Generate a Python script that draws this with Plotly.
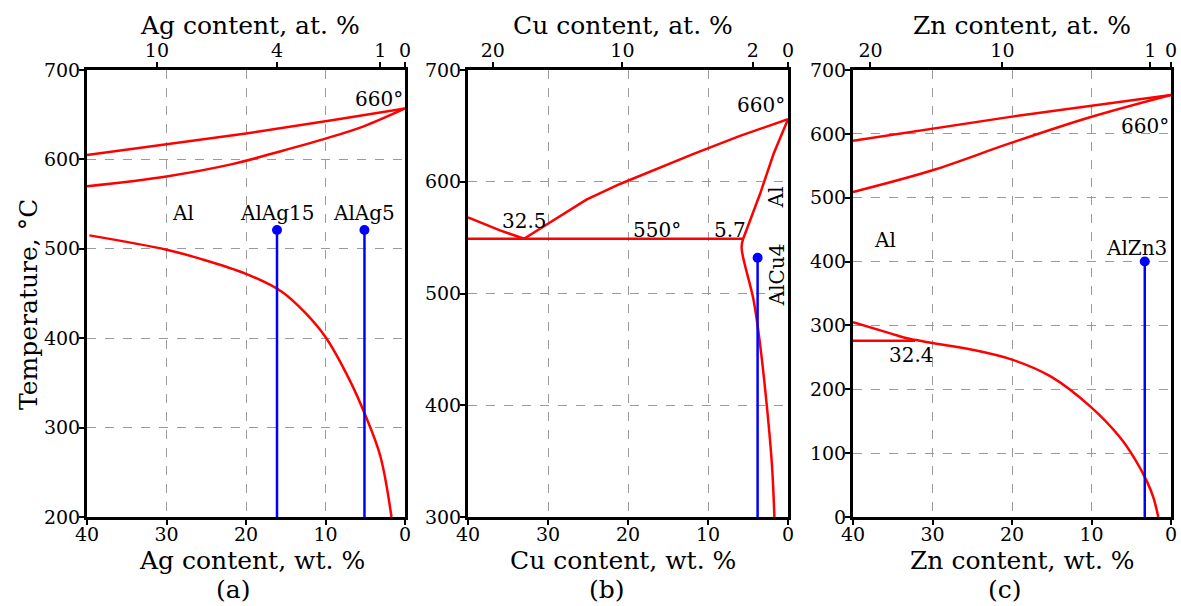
import plotly.graph_objects as go

FONT = "DejaVu Serif"
RED = "#ff0000"
BLUE = "#0000ff"
W, H = 1181, 606

# ---------------- Panel (a): Al-Ag ----------------
ag_liq_wt = [40, 30, 20, 9, 0]
ag_liq_T = [605, 617, 629, 644, 657]
ag_sol_wt = [40, 30, 21.6, 15.3, 10.1, 5.2, 0]
ag_sol_T = [570, 581, 595, 610, 623, 637, 657]
ag_solv_wt = [39.7, 30, 25.8, 20, 15.5, 12.5, 9.9, 6.9, 5.0, 3.1, 1.7]
ag_solv_T = [515, 499, 489, 472, 452, 428, 400, 352, 314, 268, 200]
ag_alloy_wt = [16.1, 5.1]
ag_alloy_T = [521, 521]
ag_alloy_names = ["AlAg15", "AlAg5"]
ag_top_tickvals = [31.2, 16.1, 3.1, 0]
ag_top_ticktext = ["10", "4", "1", "0"]
ag_yrange = [200, 700]

# ---------------- Panel (b): Al-Cu ----------------
cu_liq_wt = [33, 25.2, 21, 11.8, 6, 0]
cu_liq_T = [549, 584, 598, 625, 641, 656]
cu_liq2_wt = [40, 36, 33]
cu_liq2_T = [568, 556.5, 549]
cu_eut_wt = [40, 5.6]
cu_eut_T = [549, 549]
cu_sol_wt = [5.6, 3.5, 1.8, 0]
cu_sol_T = [549, 589, 625, 656]
cu_solv_wt = [5.6, 5.8, 4.3, 3.5, 2.6, 2.0, 1.7]
cu_solv_T = [549, 541, 494, 455, 396, 346, 300]
cu_alloy_wt = [3.8]
cu_alloy_T = [532]
cu_top_tickvals = [36.9, 20.7, 4.4, 0]
cu_top_ticktext = ["20", "10", "2", "0"]
cu_yrange = [300, 700]

# ---------------- Panel (c): Al-Zn ----------------
zn_liq_wt = [40, 30, 20, 0]
zn_liq_T = [589, 608, 627, 661]
zn_sol_wt = [40, 30, 20.3, 10.2, 0]
zn_sol_T = [509, 543, 585, 626, 661]
zn_solv_wt = [40, 35.4, 32.9, 30, 25, 20, 15.2, 10.2, 6.5, 4.5, 3.0, 2.2, 1.6]
zn_solv_T = [305, 288, 279, 272.5, 262, 246.5, 220.5, 173.6, 126, 90, 55, 30, 0]
zn_eut_wt = [40, 32.2]
zn_eut_T = [276, 276]
zn_alloy_wt = [3.3]
zn_alloy_T = [400]
zn_top_tickvals = [37.8, 21.2, 2.6, 0]
zn_top_ticktext = ["20", "10", "1", "0"]
zn_yrange = [0, 700]

bottom_tickvals = [40, 30, 20, 10, 0]

fig = go.Figure()


def red(x, y, xa, ya, spline=False):
    fig.add_trace(go.Scatter(x=x, y=y, xaxis=xa, yaxis=ya, mode="lines",
                             line=dict(color=RED, width=2.5,
                                       shape="spline" if spline else "linear",
                                       smoothing=1.0),
                             showlegend=False, hoverinfo="skip"))


def blue(xs, ts, ybot, xa, ya):
    for xv, tv in zip(xs, ts):
        fig.add_trace(go.Scatter(x=[xv, xv], y=[tv, ybot], xaxis=xa, yaxis=ya,
                                 mode="lines", line=dict(color=BLUE, width=2.5),
                                 showlegend=False, hoverinfo="skip"))
    fig.add_trace(go.Scatter(x=xs, y=ts, xaxis=xa, yaxis=ya, mode="markers",
                             marker=dict(color=BLUE, size=10),
                             showlegend=False, hoverinfo="skip"))


# panel a
red(ag_liq_wt, ag_liq_T, "x", "y")
red(ag_sol_wt, ag_sol_T, "x", "y", spline=True)
red(ag_solv_wt, ag_solv_T, "x", "y", spline=True)
blue(ag_alloy_wt, ag_alloy_T, ag_yrange[0], "x", "y")
# panel b
red(cu_liq_wt, cu_liq_T, "x3", "y2")
red(cu_liq2_wt, cu_liq2_T, "x3", "y2")
red(cu_eut_wt, cu_eut_T, "x3", "y2")
red(cu_sol_wt, cu_sol_T, "x3", "y2")
red(cu_solv_wt, cu_solv_T, "x3", "y2", spline=True)
blue(cu_alloy_wt, cu_alloy_T, cu_yrange[0], "x3", "y2")
# panel c
red(zn_liq_wt, zn_liq_T, "x5", "y3")
red(zn_sol_wt, zn_sol_T, "x5", "y3", spline=True)
red(zn_solv_wt, zn_solv_T, "x5", "y3", spline=True)
red(zn_eut_wt, zn_eut_T, "x5", "y3")
blue(zn_alloy_wt, zn_alloy_T, zn_yrange[0], "x5", "y3")

# invisible traces for top axes
for xa, ya, yr in [("x2", "y", ag_yrange), ("x4", "y2", cu_yrange), ("x6", "y3", zn_yrange)]:
    fig.add_trace(go.Scatter(x=[0], y=[yr[0]], xaxis=xa, yaxis=ya, mode="markers",
                             marker=dict(opacity=0), showlegend=False, hoverinfo="skip"))

Y0, Y1 = 1 - 517 / H, 1 - 70 / H
doms = [(87 / W, 405 / W), (468 / W, 788 / W), (853 / W, 1171 / W)]
tickfont = dict(family=FONT, size=19, color="black")

common_axis = dict(showline=True, linecolor="black", linewidth=3,
                   ticks="outside", ticklen=5, tickwidth=2, tickcolor="black",
                   tickfont=tickfont, zeroline=False, automargin=False)

layout = dict(width=W, height=H, margin=dict(l=0, r=0, t=0, b=0),
              paper_bgcolor="white", plot_bgcolor="white", showlegend=False)

tops = [(ag_top_tickvals, ag_top_ticktext), (cu_top_tickvals, cu_top_ticktext),
        (zn_top_tickvals, zn_top_ticktext)]
yr = [ag_yrange, cu_yrange, zn_yrange]
for i in range(3):
    bx = "xaxis" if i == 0 else f"xaxis{2 * i + 1}"
    tx = f"xaxis{2 * i + 2}"
    yname = "yaxis" if i == 0 else f"yaxis{i + 1}"
    yref = "y" if i == 0 else f"y{i + 1}"
    bref = "x" if i == 0 else f"x{2 * i + 1}"
    layout[bx] = dict(common_axis, domain=doms[i], anchor=yref, range=[40, 0],
                      tickvals=bottom_tickvals, showgrid=True, gridcolor="#9a9a9a",
                      griddash="dash", gridwidth=1, mirror=False,
                      ticklabelstandoff=-7)
    layout[tx] = dict(common_axis, overlaying=bref, side="top", anchor=yref,
                      range=[40, 0], tickvals=tops[i][0], ticktext=tops[i][1],
                      showgrid=False, ticklabelstandoff=-3)
    layout[yname] = dict(common_axis, domain=[Y0, Y1], anchor=bref, range=yr[i],
                         dtick=100, showgrid=True, gridcolor="#9a9a9a",
                         griddash="dash", gridwidth=1, mirror=True,
                         ticklabelstandoff=-5)

fig.update_layout(**layout)

ann = []


def paper_text(text, px, py, size, angle=0):
    ann.append(dict(text=text, x=px / W, y=1 - py / H, xref="paper", yref="paper",
                    showarrow=False, textangle=angle, xanchor="center", yanchor="middle",
                    font=dict(family=FONT, size=size, color="black")))


def data_text(text, x, y, xref, yref, size=20, angle=0, xanchor="center"):
    ann.append(dict(text=text, x=x, y=y, xref=xref, yref=yref, showarrow=False,
                    textangle=angle, xanchor=xanchor, yanchor="middle",
                    font=dict(family=FONT, size=size, color="black")))


TS = 25
paper_text("Ag content, at. %", 250, 25, TS)
paper_text("Cu content, at. %", 623, 25, TS)
paper_text("Zn content, at. %", 1022, 25, TS)
paper_text("Ag content, wt. %", 252, 560, TS)
paper_text("Cu content, wt. %", 623, 560, TS)
paper_text("Zn content, wt. %", 1022, 560, TS)
paper_text("(a)", 233, 589, TS)
paper_text("(b)", 607, 589, TS)
paper_text("(c)", 1005, 589, TS)
paper_text("Temperature, °C", 28, 305, TS, angle=-90)

# panel a labels
data_text("660°", 3.3, 668, "x", "y")
data_text("Al", 27.9, 540, "x", "y")
for nm, xv in zip(ag_alloy_names, ag_alloy_wt):
    data_text(nm, xv, 540, "x", "y")
# panel b labels
data_text("660°", 3.4, 669, "x3", "y2")
data_text("32.5", 32.9, 565, "x3", "y2")
data_text("550°", 16.4, 557, "x3", "y2")
data_text("5.7", 7.2, 557, "x3", "y2")
data_text("Al", 1.4, 586, "x3", "y2", angle=-90)
data_text("AlCu4", 1.4, 517, "x3", "y2", angle=-90)
# panel c labels
data_text("660°", 3.3, 613, "x5", "y3")
data_text("Al", 36, 434, "x5", "y3")
data_text("AlZn3", 4.3, 421, "x5", "y3")
data_text("32.4", 32.6, 254, "x5", "y3")

fig.update_layout(annotations=ann)
fig.write_html("out.html")
